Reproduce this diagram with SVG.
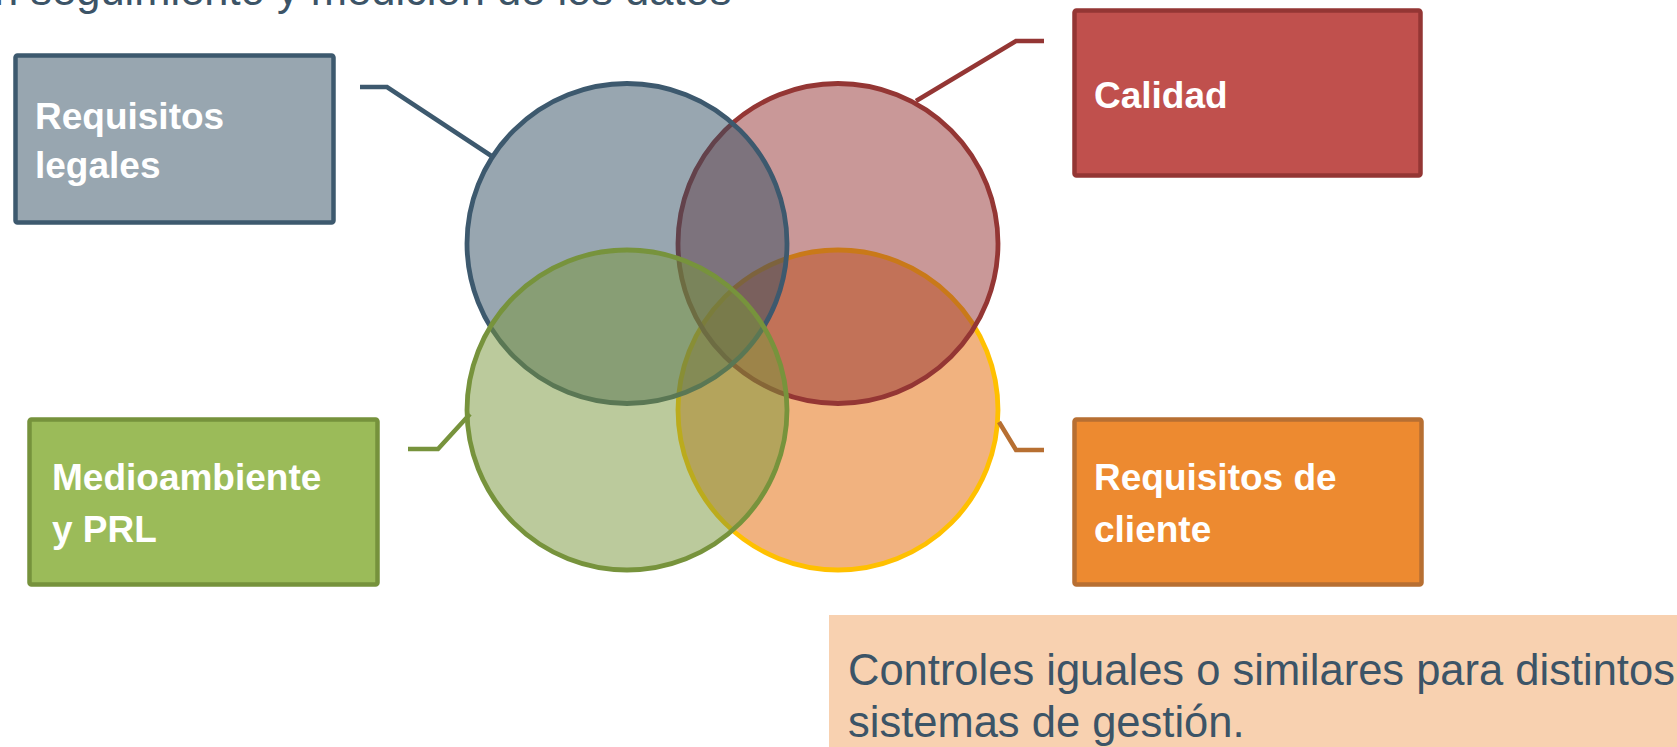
<svg xmlns="http://www.w3.org/2000/svg" width="1677" height="747" viewBox="0 0 1677 747">
<style>
.lbl{font-family:"Liberation Sans",Arial,sans-serif;font-weight:bold;font-size:37px;fill:#ffffff}
.body{font-family:"Liberation Sans",Arial,sans-serif;font-size:43.5px;fill:#3c5467}
.conn{fill:none;stroke-width:4.5;stroke-linejoin:miter}
.circ{stroke-width:4.8}
.box{stroke-width:4.5}
</style>
<rect width="1677" height="747" fill="#ffffff"/>
<text class="body" x="-6" y="5" font-size="46">n seguimiento y medición de los datos</text>

<g id="venn">
  <circle id="c-orange" class="circ" cx="838" cy="410" r="160" fill="#e46c0a" fill-opacity="0.52" stroke="#ffc000"/>
  <circle id="c-red" class="circ" cx="838" cy="243.5" r="160" fill="#933131" fill-opacity="0.5" stroke="#943634"/>
  <circle id="c-blue" class="circ" cx="627" cy="243.5" r="160" fill="#314d61" fill-opacity="0.5" stroke="#3d596e"/>
  <circle id="c-green" class="circ" cx="627" cy="410" r="160" fill="#779539" fill-opacity="0.5" stroke="#77933c"/>
</g>

<g id="connectors">
  <polyline class="conn" points="360,87 387,87 493,157" stroke="#3d596e"/>
  <polyline class="conn" points="1044,41 1016,41 916,101" stroke="#943634"/>
  <polyline class="conn" points="408,449 438,449 470,414" stroke="#77933c"/>
  <polyline class="conn" points="999,422 1016,450 1044,450" stroke="#b76f32"/>
</g>

<g id="n-legales">
  <rect class="box" x="15.5" y="55.5" width="318" height="167" rx="2" fill="#98a6b0" stroke="#3d596e"/>
  <text class="lbl" x="35" y="129">Requisitos</text>
  <text class="lbl" x="35" y="178">legales</text>
</g>
<g id="n-calidad">
  <rect class="box" x="1074.5" y="10.5" width="346" height="165" rx="2" fill="#c0504d" stroke="#943634"/>
  <text class="lbl" x="1094" y="108">Calidad</text>
</g>
<g id="n-medio">
  <rect class="box" x="29.5" y="419.5" width="348" height="165" rx="2" fill="#9bbb59" stroke="#76923c"/>
  <text class="lbl" x="52" y="490" font-size="38.5">Medioambiente</text>
  <text class="lbl" x="52" y="542" font-size="38.5">y PRL</text>
</g>
<g id="n-cliente">
  <rect class="box" x="1074.5" y="419.5" width="347" height="165" rx="2" fill="#ed8a30" stroke="#b76f32"/>
  <text class="lbl" x="1094" y="490">Requisitos de</text>
  <text class="lbl" x="1094" y="542">cliente</text>
</g>

<g id="n-nota">
  <rect x="829" y="615" width="848" height="132" fill="#f8d1b0"/>
  <text class="body" x="848" y="685">Controles iguales o similares para distintos</text>
  <text class="body" x="848" y="737">sistemas de gestión.</text>
</g>
</svg>
